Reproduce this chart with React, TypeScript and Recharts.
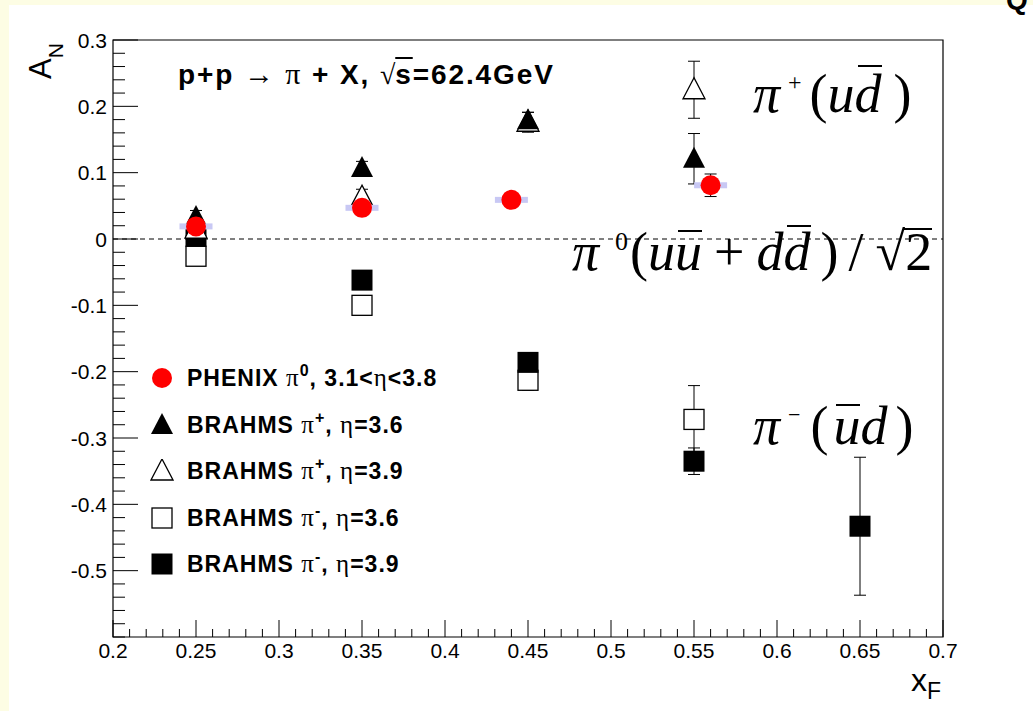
import React from "react";
import {
  ScatterChart,
  Scatter,
  XAxis,
  YAxis,
  ErrorBar,
  ReferenceLine,
  ReferenceArea,
} from "recharts";

// x_F tick labels (major every 0.05, minor every 0.01)
const X_MAJOR = [0.2, 0.25, 0.3, 0.35, 0.4, 0.45, 0.5, 0.55, 0.6, 0.65, 0.7];
const X_LABELS = ["0.2", "0.25", "0.3", "0.35", "0.4", "0.45", "0.5", "0.55", "0.6", "0.65", "0.7"];
// A_N tick labels (major every 0.1, minor every 0.02)
const Y_MAJOR = [0.3, 0.2, 0.1, 0, -0.1, -0.2, -0.3, -0.4, -0.5];
const Y_LABELS = ["0.3", "0.2", "0.1", "0", "-0.1", "-0.2", "-0.3", "-0.4", "-0.5"];

// PHENIX pi0, 3.1<eta<3.8
const XF_PHENIX = [0.25, 0.35, 0.44, 0.56];
const AN_PHENIX = [0.019, 0.047, 0.059, 0.081];
const ERR_PHENIX = [0.008, 0.008, 0.008, 0.017];

// BRAHMS
const XF_BRAHMS = [0.25, 0.35, 0.45, 0.55];
const AN_PIP_36 = [0.033, 0.107, 0.179, 0.121];
const ERR_PIP_36 = [0.01, 0.01, 0.012, 0.038];
const AN_PIP_39 = [0.015, 0.063, 0.176, 0.225];
const ERR_PIP_39 = [0.01, 0.012, 0.015, 0.043];
const AN_PIM_36 = [-0.026, -0.1, -0.213, -0.272];
const ERR_PIM_36 = [0.01, 0.012, 0.015, 0.051];
const XF_PIM_39 = [0.25, 0.35, 0.45, 0.55, 0.65];
const AN_PIM_39 = [0.004, -0.062, -0.186, -0.335, -0.433];
const ERR_PIM_39 = [0.01, 0.012, 0.014, 0.02, 0.104];

const X_MINOR = Array.from({ length: 51 }, (_, i) => +(0.2 + i * 0.01).toFixed(2));
const Y_MINOR = Array.from({ length: 46 }, (_, i) => +(-0.6 + i * 0.02).toFixed(2));

const SANS = '"Liberation Sans", Arial, Helvetica, sans-serif';
const SERIF = '"Liberation Serif", "Times New Roman", serif';

const toPoints = (xs: number[], ys: number[], errs: number[]) =>
  xs.map((x, i) => ({ x, y: ys[i], err: errs[i] }));

const phenixData = toPoints(XF_PHENIX, AN_PHENIX, ERR_PHENIX);
const pip36Data = toPoints(XF_BRAHMS, AN_PIP_36, ERR_PIP_36);
const pip39Data = toPoints(XF_BRAHMS, AN_PIP_39, ERR_PIP_39);
const pim36Data = toPoints(XF_BRAHMS, AN_PIM_36, ERR_PIM_36);
const pim39Data = toPoints(XF_PIM_39, AN_PIM_39, ERR_PIM_39);

const isNear = (a: number, b: number) => Math.abs(a - b) < 1e-6;

function XTick(props: any) {
  const { x, y, payload } = props;
  const idx = X_MAJOR.findIndex((m) => isNear(m, payload.value));
  const major = idx >= 0;
  return (
    <g>
      <line x1={x} x2={x} y1={y} y2={y - (major ? 17 : 8)} stroke="#000" strokeWidth={1} />
      {major && (
        <text x={x} y={y + 21} textAnchor="middle" fontFamily={SANS} fontSize={21} fill="#000">
          {X_LABELS[idx]}
        </text>
      )}
    </g>
  );
}

function YTick(props: any) {
  const { x, y, payload } = props;
  const idx = Y_MAJOR.findIndex((m) => isNear(m, payload.value));
  const major = idx >= 0;
  return (
    <g>
      <line x1={x} x2={x + (major ? 25 : 12)} y1={y} y2={y} stroke="#000" strokeWidth={1} />
      {major && (
        <text x={x - 6} y={y} dy="0.36em" textAnchor="end" fontFamily={SANS} fontSize={21} fill="#000">
          {Y_LABELS[idx]}
        </text>
      )}
    </g>
  );
}

// ROOT-like markers
const Circle = (p: any) => (
  <g>
    <rect x={p.cx - 16.5} y={p.cy - 3} width={33} height={6} fill="#c8c8f4" />
    <circle cx={p.cx} cy={p.cy} r={10} fill="#ff0000" />
  </g>
);
const TriFull = (p: any) => (
  <polygon points={`${p.cx},${p.cy - 12} ${p.cx - 11},${p.cy + 9} ${p.cx + 11},${p.cy + 9}`} fill="#000" />
);
const TriOpen = (p: any) => (
  <polygon
    points={`${p.cx},${p.cy - 12} ${p.cx - 11},${p.cy + 9} ${p.cx + 11},${p.cy + 9}`}
    fill="#fff"
    stroke="#000"
    strokeWidth={1.3}
  />
);
const SqFull = (p: any) => <rect x={p.cx - 10.5} y={p.cy - 10.5} width={21} height={21} fill="#000" />;
const SqOpen = (p: any) => (
  <rect x={p.cx - 10} y={p.cy - 10} width={20} height={20} fill="#fff" stroke="#000" strokeWidth={1.3} />
);

function Over({ children, top, l = 3, r = 0 }: any) {
  return (
    <span style={{ position: "relative", display: "inline-block" }}>
      {children}
      <span style={{ position: "absolute", left: l, right: r, top, borderTop: "2px solid #000" }} />
    </span>
  );
}

const it = { fontStyle: "italic" as const };
const gap = (w: number) => <span style={{ display: "inline-block", width: w }} />;
const sup = (s: string, size: number, raise: number) => (
  <span style={{ fontSize: size, position: "relative", top: -raise, fontStyle: "normal" }}>{s}</span>
);

const LEGEND = [
  { key: "phenix", icon: "circle", main: "PHENIX ", sup: "0", tail: ", 3.1<", tail2: "<3.8" },
  { key: "pip36", icon: "trifull", main: "BRAHMS ", sup: "+", tail: ", ", tail2: "=3.6" },
  { key: "pip39", icon: "triopen", main: "BRAHMS ", sup: "+", tail: ", ", tail2: "=3.9" },
  { key: "pim36", icon: "sqopen", main: "BRAHMS ", sup: "-", tail: ", ", tail2: "=3.6" },
  { key: "pim39", icon: "sqfull", main: "BRAHMS ", sup: "-", tail: ", ", tail2: "=3.9" },
];
const LEGEND_Y = [378, 425, 471, 518, 564];

function LegendIcon({ kind }: { kind: string }) {
  const c = { cx: 12, cy: 12 };
  return (
    <svg width={24} height={24} style={{ position: "absolute", left: 150, top: -12 }}>
      {kind === "circle" && <circle cx={12} cy={12} r={10} fill="#ff0000" />}
      {kind === "trifull" && <TriFull {...c} />}
      {kind === "triopen" && <TriOpen {...c} />}
      {kind === "sqopen" && <SqOpen {...c} />}
      {kind === "sqfull" && <SqFull {...c} />}
    </svg>
  );
}

const annot = (left: number, top: number) => ({
  position: "absolute" as const,
  left,
  top,
  fontFamily: SERIF,
  fontSize: 54,
  lineHeight: 1,
  whiteSpace: "nowrap" as const,
});

export default function App() {
  return (
    <div
      style={{
        position: "absolute",
        left: 0,
        top: 0,
        width: 1033,
        height: 711,
        background: "#fdfde4",
        overflow: "hidden",
      }}
    >
      <div style={{ position: "absolute", left: 9, top: 5, right: 0, bottom: 0, background: "#fff" }} />
      <div
        style={{
          position: "absolute",
          left: 1006,
          top: -14,
          fontFamily: SANS,
          fontWeight: "bold",
          fontSize: 28,
          lineHeight: 1,
        }}
      >
        Q
      </div>

      <div style={{ position: "absolute", left: 0, top: 0 }}>
        <ScatterChart width={1033} height={711} margin={{ top: 40, right: 90, bottom: 44, left: 53 }}>
          <XAxis
            type="number"
            dataKey="x"
            domain={[0.2, 0.7]}
            ticks={X_MINOR}
            interval={0}
            tick={<XTick />}
            tickLine={false}
            axisLine={false}
            tickSize={0}
            tickMargin={0}
            height={30}
            allowDataOverflow
          />
          <YAxis
            type="number"
            dataKey="y"
            domain={[-0.6, 0.3]}
            ticks={Y_MINOR}
            interval={0}
            tick={<YTick />}
            tickLine={false}
            axisLine={false}
            tickSize={0}
            tickMargin={0}
            width={60}
            allowDataOverflow
          />
          <ReferenceArea x1={0.2} x2={0.7} y1={-0.6} y2={0.3} fill="none" stroke="#000" strokeWidth={1.2} />
          <ReferenceLine y={0} stroke="#000" strokeDasharray="5 4" strokeWidth={1} />

          <Scatter data={pim36Data} shape={SqOpen} isAnimationActive={false}>
            <ErrorBar dataKey="err" direction="y" width={6} stroke="#000" strokeWidth={1} />
          </Scatter>
          <Scatter data={pim39Data} shape={SqFull} isAnimationActive={false}>
            <ErrorBar dataKey="err" direction="y" width={6} stroke="#000" strokeWidth={1} />
          </Scatter>
          <Scatter data={pip39Data} shape={TriOpen} isAnimationActive={false}>
            <ErrorBar dataKey="err" direction="y" width={6} stroke="#000" strokeWidth={1} />
          </Scatter>
          <Scatter data={pip36Data} shape={TriFull} isAnimationActive={false}>
            <ErrorBar dataKey="err" direction="y" width={6} stroke="#000" strokeWidth={1} />
          </Scatter>
          <Scatter data={phenixData} shape={Circle} isAnimationActive={false}>
            <ErrorBar dataKey="err" direction="y" width={6} stroke="#000" strokeWidth={1} />
          </Scatter>
        </ScatterChart>
      </div>

      {/* axis titles */}
      <div
        style={{
          position: "absolute",
          left: 50,
          top: 79,
          transformOrigin: "0 0",
          transform: "rotate(-90deg)",
          fontFamily: SANS,
          fontSize: 31,
          lineHeight: 1,
          whiteSpace: "nowrap",
        }}
      >
        <span style={{ position: "relative", top: -25 }}>A</span>
        <span style={{ fontSize: 21, position: "relative", top: -13 }}>N</span>
      </div>
      <div
        style={{
          position: "absolute",
          left: 911,
          top: 664,
          fontFamily: SANS,
          fontSize: 32,
          lineHeight: 1,
          whiteSpace: "nowrap",
        }}
      >
        x<span style={{ fontSize: 23, position: "relative", top: 8 }}>F</span>
      </div>

      {/* title */}
      <div
        style={{
          position: "absolute",
          left: 178,
          top: 59,
          fontFamily: SANS,
          fontWeight: "bold",
          fontSize: 28,
          letterSpacing: 1.9,
          lineHeight: 1,
          whiteSpace: "nowrap",
        }}
      >
        p+p <span style={{ fontFamily: SERIF, fontWeight: "normal", fontSize: 30 }}>→ π</span> + X,{" "}
        <span style={{ fontFamily: SERIF, fontWeight: "normal", letterSpacing: 0 }}>√</span>
        <span style={{ textDecoration: "overline" }}>s</span>=62.4GeV
      </div>

      {/* quark content annotations */}
      <div style={annot(753, 67)}>
        <span style={it}>π</span>
        {gap(8)}
        {sup("+", 24, 22)}
        {gap(8)}
        <span>(</span>
        <span style={it}>u</span>
        <Over top={-2}>
          <span style={it}>d</span>
        </Over>
        {gap(12)}
        <span>)</span>
      </div>
      <div style={annot(572, 225)}>
        <span style={it}>π</span>
        {gap(16)}
        {sup("0", 26, 20)}
        {gap(2)}
        <span>(</span>
        <span style={it}>u</span>
        <Over top={5}>
          <span style={it}>u</span>
        </Over>
        {gap(12)}
        <span>+</span>
        {gap(12)}
        <span style={it}>d</span>
        <Over top={0}>
          <span style={it}>d</span>
        </Over>
        {gap(10)}
        <span>)</span>
        {gap(10)}
        <span>/</span>
        {gap(12)}
        <span>√</span>
        <Over top={3} l={-2}>
          <span>2</span>
        </Over>
      </div>
      <div style={annot(753, 399)}>
        <span style={it}>π</span>
        {gap(8)}
        {sup("−", 22, 22)}
        {gap(10)}
        <span>(</span>
        {gap(5)}
        <Over top={5}>
          <span style={it}>u</span>
        </Over>
        <span style={it}>d</span>
        {gap(8)}
        <span>)</span>
      </div>

      {/* legend */}
      {LEGEND.map((e, i) => (
        <div key={e.key} style={{ position: "absolute", left: 0, top: LEGEND_Y[i], height: 0 }}>
          <LegendIcon kind={e.icon} />
          <div
            style={{
              position: "absolute",
              left: 187,
              top: -13,
              fontFamily: SANS,
              fontWeight: "bold",
              fontSize: 23,
              letterSpacing: 1,
              lineHeight: 1,
              whiteSpace: "nowrap",
            }}
          >
            {e.main}
            <span style={{ fontFamily: SERIF, fontWeight: "normal", fontSize: 25 }}>π</span>
            <span style={{ fontSize: 16, position: "relative", top: -10 }}>{e.sup}</span>
            {e.tail}
            <span style={{ fontFamily: SERIF, fontWeight: "normal", fontSize: 25 }}>η</span>
            {e.tail2}
          </div>
        </div>
      ))}
    </div>
  );
}
